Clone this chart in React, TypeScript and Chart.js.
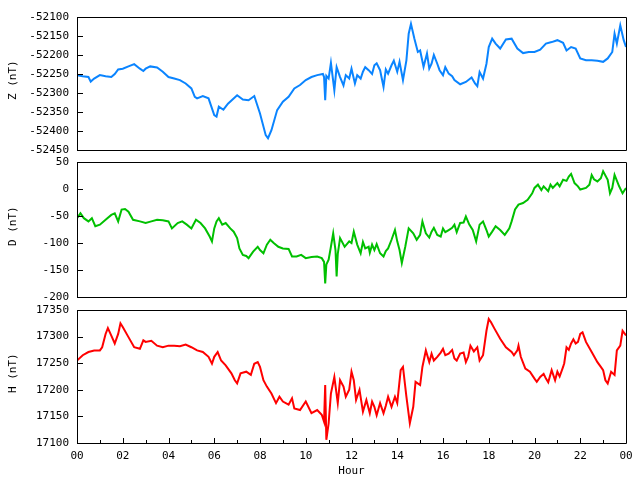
import { useEffect, useRef } from "react";
import { Chart, registerables } from "chart.js";

Chart.register(...registerables);

// readings, hours since 00 UT
const zHours = [
  0, 0.25, 0.5, 0.6, 0.75, 1, 1.25, 1.5, 1.65, 1.8,
  2, 2.25, 2.5, 2.75, 2.9, 3, 3.2, 3.5, 3.75, 4,
  4.25, 4.5, 4.75, 5, 5.15, 5.25, 5.5, 5.75, 6, 6.1,
  6.2, 6.4, 6.6, 7, 7.25, 7.5, 7.75, 8, 8.25, 8.35,
  8.5, 8.75, 9, 9.25, 9.5, 9.75, 10, 10.25, 10.5, 10.75,
  10.8, 10.85, 10.9, 11, 11.1, 11.25, 11.35, 11.5, 11.65, 11.75,
  11.9, 12, 12.15, 12.25, 12.4, 12.5, 12.6, 12.75, 12.9, 13,
  13.1, 13.25, 13.4, 13.5, 13.6, 13.75, 13.85, 14, 14.1, 14.25,
  14.4, 14.5, 14.6, 14.75, 14.9, 15, 15.15, 15.3, 15.4, 15.5,
  15.6, 15.75, 15.85, 16, 16.1, 16.25, 16.4, 16.5, 16.75, 17,
  17.25, 17.4, 17.5, 17.6, 17.75, 17.9, 18, 18.15, 18.3, 18.5,
  18.75, 19, 19.25, 19.5, 19.75, 20, 20.25, 20.5, 20.75, 21,
  21.25, 21.4, 21.6, 21.8, 22, 22.25, 22.5, 22.75, 23, 23.2,
  23.4, 23.5, 23.6, 23.75, 23.9, 24,
];
const zValues = [
  -52253, -52256, -52258, -52270, -52262, -52253, -52256, -52258, -52250, -52238,
  -52236, -52230, -52224, -52236, -52242, -52236, -52230, -52233, -52244, -52258,
  -52262, -52266, -52275, -52288, -52310, -52314, -52308, -52314, -52358, -52362,
  -52336, -52344, -52328, -52306, -52317, -52319, -52308, -52354, -52411, -52419,
  -52398, -52345, -52323, -52310, -52288, -52279, -52266, -52258, -52253, -52250,
  -52258, -52319, -52255, -52262, -52221, -52293, -52232, -52258, -52280, -52253,
  -52262, -52236, -52275, -52253, -52262, -52244, -52232, -52240, -52250, -52227,
  -52222, -52240, -52284, -52238, -52249, -52227, -52215, -52244, -52218, -52266,
  -52214, -52144, -52118, -52157, -52192, -52188, -52231, -52196, -52236, -52223,
  -52200, -52223, -52240, -52253, -52232, -52249, -52256, -52266, -52277, -52271,
  -52259, -52275, -52282, -52245, -52262, -52223, -52179, -52157, -52170, -52183,
  -52159, -52157, -52183, -52195, -52192, -52192, -52186, -52170, -52166, -52161,
  -52168, -52188, -52179, -52183, -52209, -52214, -52214, -52215, -52218, -52209,
  -52192, -52144, -52170, -52122, -52161, -52179,
];

const dHours = [
  0, 0.15, 0.3, 0.5, 0.65, 0.8, 1, 1.25, 1.5, 1.65,
  1.8, 1.95, 2.1, 2.25, 2.45, 2.75, 3, 3.25, 3.5, 3.75,
  4, 4.15, 4.4, 4.6, 4.8, 5, 5.2, 5.4, 5.6, 5.8,
  5.9, 6, 6.1, 6.2, 6.35, 6.5, 6.7, 6.85, 7, 7.1,
  7.25, 7.4, 7.5, 7.7, 7.9, 8, 8.15, 8.3, 8.45, 8.6,
  8.8, 9, 9.25, 9.4, 9.6, 9.8, 10, 10.25, 10.5, 10.7,
  10.8, 10.85, 10.9, 11, 11.1, 11.2, 11.3, 11.35, 11.4, 11.5,
  11.7, 11.9, 12, 12.1, 12.25, 12.4, 12.5, 12.6, 12.75, 12.8,
  12.9, 13, 13.1, 13.25, 13.4, 13.5, 13.6, 13.75, 13.9, 14,
  14.1, 14.2, 14.35, 14.5, 14.7, 14.85, 15, 15.1, 15.25, 15.4,
  15.5, 15.6, 15.75, 15.9, 16, 16.1, 16.25, 16.4, 16.5, 16.6,
  16.75, 16.9, 17, 17.15, 17.3, 17.45, 17.6, 17.75, 17.9, 18,
  18.15, 18.3, 18.5, 18.7, 18.9, 19, 19.15, 19.3, 19.5, 19.7,
  19.9, 20, 20.15, 20.3, 20.4, 20.6, 20.7, 20.8, 21, 21.1,
  21.25, 21.4, 21.5, 21.6, 21.75, 21.9, 22, 22.25, 22.4, 22.5,
  22.6, 22.75, 22.9, 23, 23.2, 23.3, 23.4, 23.5, 23.7, 23.85,
  24,
];
const dValues = [
  -54, -45, -54, -60, -54, -69, -66, -57, -48, -45,
  -60, -38, -37, -42, -57, -60, -63, -60, -57, -58,
  -60, -73, -63, -60, -66, -73, -57, -63, -73, -88,
  -97, -73, -60, -54, -66, -63, -73, -79, -91, -110,
  -122, -124, -128, -116, -107, -113, -119, -103, -94, -100,
  -107, -110, -111, -125, -125, -122, -128, -126, -125, -128,
  -135, -175, -140, -131, -107, -82, -113, -162, -120, -91,
  -107, -97, -100, -79, -103, -119, -98, -110, -107, -118,
  -103, -113, -102, -119, -125, -115, -110, -94, -76, -97,
  -113, -137, -107, -73, -82, -94, -85, -60, -82, -90,
  -79, -72, -85, -88, -73, -80, -76, -72, -66, -80,
  -63, -62, -51, -66, -76, -97, -66, -60, -76, -88,
  -79, -69, -76, -85, -73, -60, -38, -29, -26, -20,
  -8, 2, 8, -2, 5, -4, 8, 2, 11, 5,
  17, 15, 23, 28, 11, 5, -1, 2, 8, 26,
  18, 14, 20, 33, 17, -8, 2, 26, 5, -8,
  2,
];

const hHours = [
  0, 0.25, 0.5, 0.75, 1, 1.1, 1.25, 1.35, 1.5, 1.65,
  1.8, 1.9, 2, 2.25, 2.5, 2.75, 2.9, 3, 3.25, 3.5,
  3.75, 4, 4.25, 4.5, 4.75, 5, 5.25, 5.5, 5.75, 5.9,
  6, 6.15, 6.3, 6.5, 6.75, 6.9, 7, 7.15, 7.4, 7.6,
  7.75, 7.9, 8, 8.15, 8.3, 8.5, 8.7, 8.85, 9, 9.25,
  9.4, 9.5, 9.75, 10, 10.25, 10.5, 10.7, 10.8, 10.85, 10.9,
  11, 11.1, 11.25, 11.4, 11.5, 11.65, 11.75, 11.9, 12, 12.1,
  12.2, 12.35, 12.5, 12.65, 12.8, 12.9, 13, 13.1, 13.25, 13.4,
  13.5, 13.6, 13.75, 13.9, 14, 14.15, 14.25, 14.4, 14.55, 14.7,
  14.8, 15, 15.1, 15.25, 15.4, 15.5, 15.6, 15.75, 15.9, 16,
  16.1, 16.25, 16.4, 16.5, 16.6, 16.75, 16.9, 17, 17.1, 17.2,
  17.35, 17.5, 17.6, 17.75, 17.9, 18, 18.1, 18.25, 18.5, 18.75,
  19, 19.1, 19.25, 19.3, 19.4, 19.6, 19.8, 20, 20.1, 20.25,
  20.4, 20.5, 20.6, 20.75, 20.9, 21, 21.1, 21.25, 21.3, 21.4,
  21.5, 21.6, 21.7, 21.8, 21.9, 22, 22.1, 22.25, 22.5, 22.75,
  22.9, 23, 23.1, 23.2, 23.35, 23.5, 23.6, 23.75, 23.85, 24,
];
const hValues = [
  17255, 17265, 17271, 17274, 17274, 17280, 17305, 17316, 17302, 17287,
  17305, 17325, 17318, 17299, 17280, 17277, 17293, 17290, 17292, 17283,
  17280, 17283, 17283, 17282, 17285, 17280, 17274, 17271, 17262, 17249,
  17262, 17271, 17255, 17246, 17231, 17218, 17212, 17231, 17234, 17228,
  17249, 17252, 17243, 17218, 17206, 17193, 17175, 17187, 17178, 17172,
  17184, 17165, 17162, 17178, 17156, 17162, 17153, 17140, 17209, 17106,
  17137, 17193, 17224, 17175, 17218, 17206, 17187, 17200, 17234, 17218,
  17181, 17200, 17159, 17181, 17156, 17178, 17168, 17152, 17175, 17156,
  17170, 17187, 17168, 17187, 17175, 17237, 17243, 17187, 17137, 17168,
  17215, 17209, 17243, 17274, 17252, 17268, 17255, 17262, 17270, 17277,
  17265, 17268, 17275, 17259, 17255, 17268, 17270, 17252, 17262, 17283,
  17272, 17280, 17255, 17265, 17311, 17333, 17327, 17315, 17296, 17280,
  17271, 17265, 17274, 17283, 17262, 17240, 17234, 17221, 17215, 17224,
  17230, 17221, 17214, 17237, 17218, 17234, 17225, 17243, 17250, 17280,
  17275, 17287, 17295, 17287, 17290, 17305, 17308, 17290, 17271, 17252,
  17243, 17237, 17218, 17212, 17234, 17228, 17274, 17283, 17311, 17302,
];

const FONT = "'DejaVu Sans Mono', monospace";

// box round the plot area, with short ticks pointing inward
const framePlugin = {
  id: "frame",
  afterDraw(chart) {
    const { ctx, chartArea: a, scales } = chart;
    ctx.save();
    ctx.strokeStyle = "#000";
    ctx.lineWidth = 1;
    ctx.beginPath();
    ctx.rect(a.left + 0.5, a.top + 0.5, a.right - a.left, a.bottom - a.top);
    scales.y.ticks.forEach((t) => {
      const py = Math.round(scales.y.getPixelForValue(t.value)) + 0.5;
      ctx.moveTo(a.left, py);
      ctx.lineTo(a.left + 6, py);
    });
    if (scales.x.options.display) {
      for (let h = 0; h <= 24; h++) {
        const px = Math.round(scales.x.getPixelForValue(h)) + 0.5;
        ctx.moveTo(px, a.bottom);
        ctx.lineTo(px, a.bottom - (h % 2 ? 3 : 5));
      }
    }
    ctx.stroke();
    ctx.restore();
  },
};

function makeConfig(hours, values, color, title, min, max, top, bottom, showX) {
  return {
    type: "line",
    data: {
      datasets: [
        {
          data: hours.map((h, i) => ({ x: h, y: values[i] })),
          borderColor: color,
          borderWidth: 2,
          pointRadius: 0,
          tension: 0,
        },
      ],
    },
    options: {
      responsive: false,
      animation: false,
      layout: { padding: { left: 3, right: 14, top: top, bottom: bottom } },
      plugins: { legend: { display: false }, tooltip: { enabled: false } },
      scales: {
        x: {
          type: "linear",
          min: 0,
          max: 24,
          display: showX,
          afterFit: (s) => {
            s.height = showX ? 37 : 0;
          },
          grid: { display: false, drawTicks: false },
          border: { display: false },
          ticks: {
            stepSize: 2,
            autoSkip: false,
            maxRotation: 0,
            padding: 7,
            color: "#000",
            font: { family: FONT, size: 11 },
            callback: (v) => String(v % 24).padStart(2, "0"),
          },
          title: {
            display: true,
            text: "Hour",
            color: "#000",
            padding: { top: 4, bottom: 2 },
            font: { family: FONT, size: 11 },
          },
        },
        y: {
          min: min,
          max: max,
          afterFit: (s) => {
            s.width = 74;
          },
          grid: { display: false, drawTicks: false },
          border: { display: false },
          ticks: {
            stepSize: 50,
            autoSkip: false,
            padding: 8,
            color: "#000",
            font: { family: FONT, size: 11 },
            callback: (v) => String(v),
          },
          title: {
            display: true,
            text: title,
            color: "#000",
            font: { family: FONT, size: 11 },
          },
        },
      },
    },
    plugins: [framePlugin],
  };
}

const Panel = ({ config }) => {
  const canvasRef = useRef(null);
  const chartRef = useRef(null);

  useEffect(() => {
    if (chartRef.current) chartRef.current.destroy();
    chartRef.current = new Chart(canvasRef.current.getContext("2d"), config);
    return () => {
      if (chartRef.current) {
        chartRef.current.destroy();
        chartRef.current = null;
      }
    };
  }, [config]);

  return (
    <canvas
      ref={canvasRef}
      width={640}
      height={480}
      style={{ position: "absolute", left: 0, top: 0, width: 640, height: 480 }}
    />
  );
};

const zConfig = makeConfig(zHours, zValues, "#0a84ff", " Z (nT)", -52450, -52100, 17, 330, false);
const dConfig = makeConfig(dHours, dValues, "#00c000", " D (nT)", -200, 50, 162, 183, false);
const hConfig = makeConfig(hHours, hValues, "#ff0000", " H (nT)", 17100, 17350, 310, 0, true);

export default function App() {
  return (
    <div style={{ position: "fixed", left: 0, top: 0, width: 640, height: 480, background: "#fff" }}>
      <Panel config={zConfig} />
      <Panel config={dConfig} />
      <Panel config={hConfig} />
    </div>
  );
}
